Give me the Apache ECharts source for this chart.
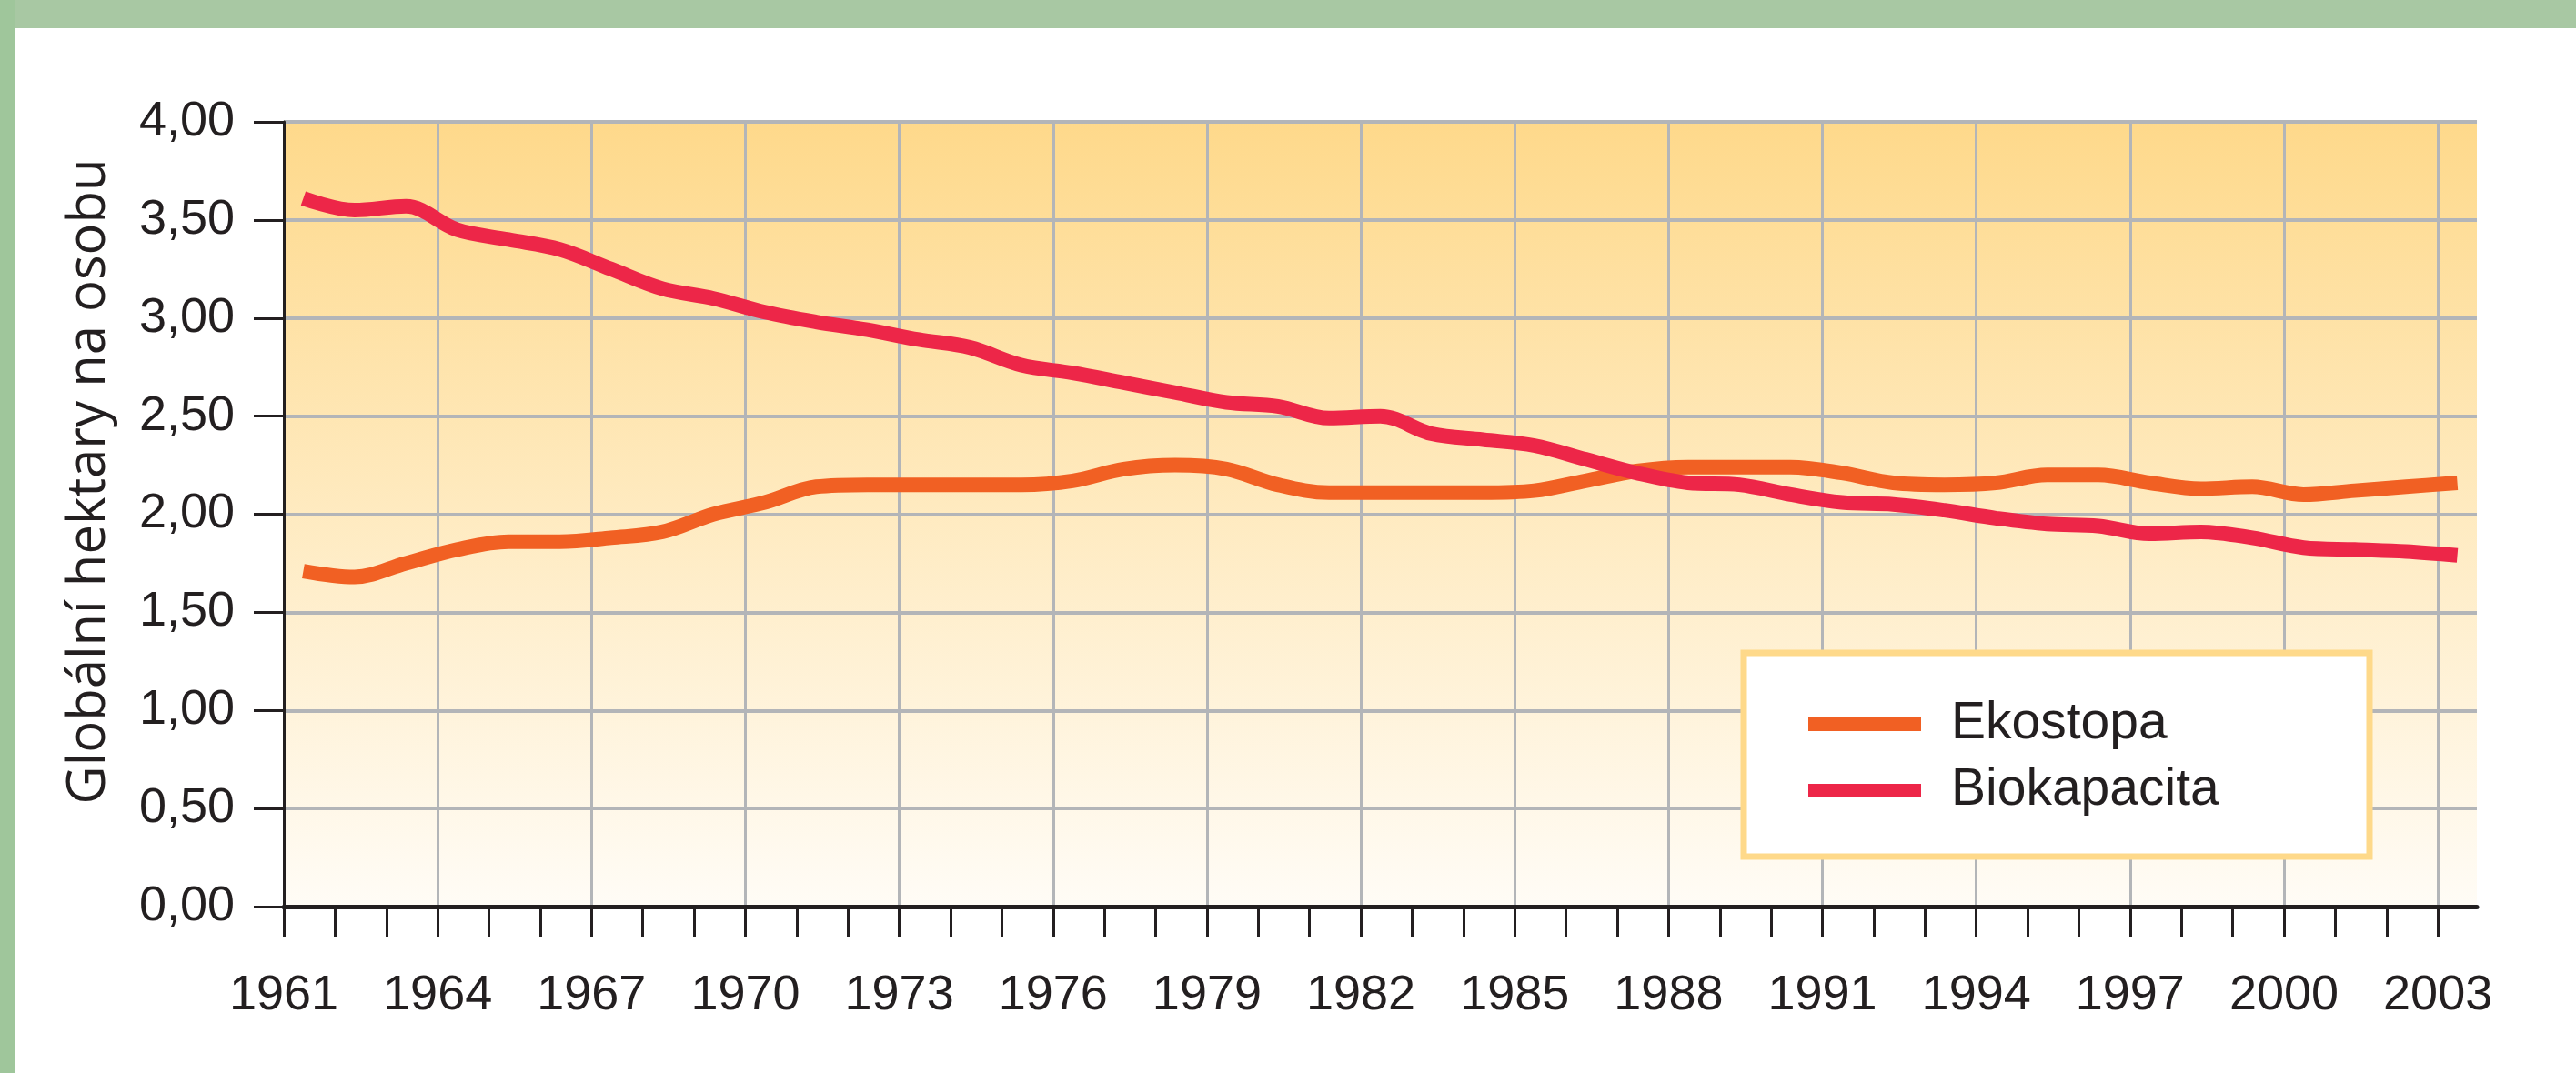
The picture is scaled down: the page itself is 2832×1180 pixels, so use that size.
<!DOCTYPE html>
<html>
<head>
<meta charset="utf-8">
<script src="https://cdn.jsdelivr.net/npm/echarts@6/dist/echarts.min.js"></script>
<style>
  html, body { margin: 0; padding: 0; background: #fff; }
  #chart { width: 2832px; height: 1180px; }
</style>
</head>
<body>
<div id="chart"></div>
<script>
const years = [1961, 1962, 1963, 1964, 1965, 1966, 1967, 1968, 1969, 1970,
  1971, 1972, 1973, 1974, 1975, 1976, 1977, 1978, 1979, 1980,
  1981, 1982, 1983, 1984, 1985, 1986, 1987, 1988, 1989, 1990,
  1991, 1992, 1993, 1994, 1995, 1996, 1997, 1998, 1999, 2000,
  2001, 2002, 2003]
const labelYears = [1961, 1964, 1967, 1970, 1973, 1976, 1979, 1982, 1985, 1988, 1991, 1994, 1997, 2000, 2003]
const seriesNames = ['Ekostopa', 'Biokapacita']

// globální hektary na osobu
const ekostopa = [1.71, 1.68, 1.75, 1.82, 1.86, 1.86, 1.88, 1.91, 2.00, 2.06,
  2.14, 2.15, 2.15, 2.15, 2.15, 2.17, 2.23, 2.25, 2.23, 2.15,
  2.11, 2.11, 2.11, 2.11, 2.12, 2.17, 2.22, 2.24, 2.24, 2.24,
  2.21, 2.16, 2.15, 2.16, 2.20, 2.20, 2.16, 2.13, 2.14, 2.10,
  2.12, 2.14, 2.16]
const biokapacita = [3.61, 3.55, 3.57, 3.45, 3.40, 3.35, 3.25, 3.15, 3.10, 3.03,
  2.98, 2.94, 2.89, 2.85, 2.76, 2.72, 2.67, 2.62, 2.57, 2.55,
  2.49, 2.50, 2.41, 2.38, 2.35, 2.28, 2.21, 2.16, 2.15, 2.10,
  2.06, 2.05, 2.02, 1.98, 1.95, 1.94, 1.90, 1.91, 1.88, 1.83,
  1.82, 1.81, 1.79]

const firstYear = years[0]
const midYear = 0.38   // body roku leží kousek vpravo od čáry roku
const xMax = 42.76     // plocha grafu přesahuje rok 2003

const labelFont = '"Liberation Sans", sans-serif'
const titleFont = '"Open Sans", sans-serif'
const inkColor = '#231f20'
const gridColor = '#b3b5b8'

function toPoints(values) {
  return values.map((v, i) => [years[i] - firstYear + midYear, v])
}

const chart = echarts.init(document.getElementById('chart'), null, { renderer: 'canvas' })

const option = {
  animation: false,
  grid: {
    left: 312,
    right: 109,
    top: 134,
    bottom: 183,
    show: true,
    borderWidth: 0,
    backgroundColor: {
      type: 'linear', x: 0, y: 0, x2: 0, y2: 1,
      colorStops: [
        { offset: 0, color: '#fed98b' },
        { offset: 1, color: '#fffcf6' }
      ]
    }
  },
  xAxis: {
    type: 'value',
    min: 0,
    max: xMax,
    interval: 1,
    axisLine: { lineStyle: { color: inkColor, width: 5 } },
    axisTick: {
      customValues: years.map(y => y - firstYear),
      length: 33,
      lineStyle: { color: inkColor, width: 3 }
    },
    axisLabel: {
      customValues: labelYears.map(y => y - firstYear),
      formatter: v => String(Math.round(v) + firstYear),
      margin: 71,
      fontSize: 54,
      fontFamily: labelFont,
      color: inkColor
    },
    splitLine: {
      show: true,
      lineStyle: { color: [gridColor, 'rgba(0,0,0,0)', 'rgba(0,0,0,0)'], width: 3 }
    }
  },
  yAxis: {
    type: 'value',
    min: 0,
    max: 4,
    interval: 0.5,
    name: 'Globální hektary na osobu',
    nameLocation: 'middle',
    nameGap: 185,
    nameTextStyle: {
      fontSize: 58,
      fontFamily: titleFont,
      color: inkColor,
      padding: [0, 0, 0, 72]
    },
    axisLine: { show: true, lineStyle: { color: inkColor, width: 3 } },
    axisTick: { show: true, length: 33, lineStyle: { color: inkColor, width: 3 } },
    axisLabel: {
      formatter: v => v.toFixed(2).replace('.', ','),
      margin: 54,
      fontSize: 54,
      fontFamily: labelFont,
      color: inkColor
    },
    splitLine: { show: true, lineStyle: { color: gridColor, width: 4 } }
  },
  legend: {
    data: seriesNames,
    orient: 'vertical',
    left: 1988,
    top: 768,
    padding: 0,
    itemGap: 16,
    icon: 'rect',
    itemWidth: 124,
    itemHeight: 15,
    z: 4,
    textStyle: {
      fontSize: 57,
      lineHeight: 54,
      fontFamily: labelFont,
      color: inkColor,
      padding: [0, 0, 0, 28]
    }
  },
  graphic: [
    { type: 'rect', silent: true, shape: { x: 0, y: 0, width: 2832, height: 31 }, style: { fill: '#a8c8a3' } },
    { type: 'rect', silent: true, shape: { x: 0, y: 0, width: 17, height: 1180 }, style: { fill: '#9fc69b' } },
    {
      type: 'rect', silent: true, z: 3,
      shape: { x: 1917, y: 718, width: 688, height: 224 },
      style: { fill: '#ffffff', stroke: '#fed98a', lineWidth: 7 }
    }
  ],
  series: [
    {
      name: seriesNames[0],
      type: 'line',
      data: toPoints(ekostopa),
      smooth: 0.35,
      showSymbol: false,
      color: '#f16023',
      lineStyle: { color: '#f16023', width: 16, join: 'round' }
    },
    {
      name: seriesNames[1],
      type: 'line',
      data: toPoints(biokapacita),
      smooth: 0.35,
      showSymbol: false,
      color: '#ed2648',
      lineStyle: { color: '#ed2648', width: 16, join: 'round' }
    }
  ]
}

chart.setOption(option)
</script>
</body>
</html>
